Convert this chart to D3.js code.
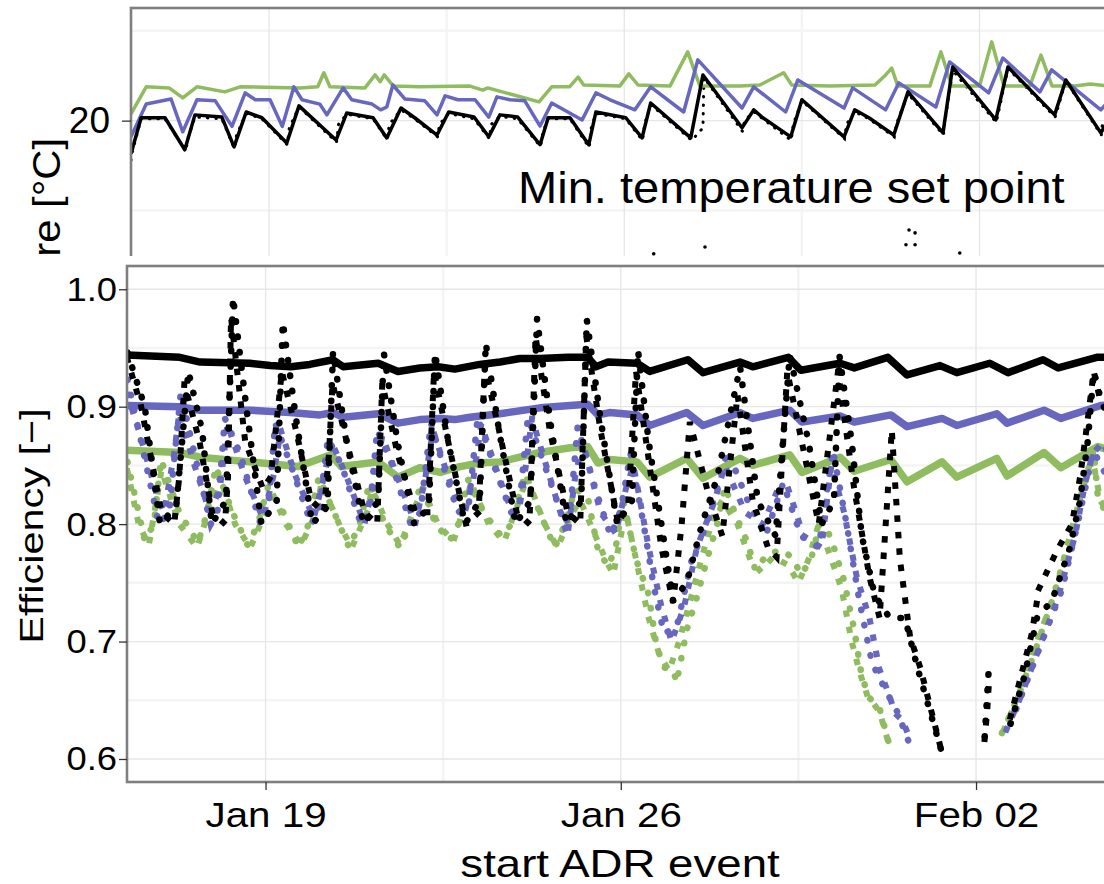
<!DOCTYPE html>
<html>
<head>
<meta charset="utf-8">
<script src="https://cdn.jsdelivr.net/npm/d3@7"></script>
<style>
  body { margin: 0; background: #fff; }
  svg { display: block; }
  text { font-family: "Liberation Sans", Arial, Helvetica, sans-serif; fill: #000; }
</style>
</head>
<body>
<svg id="chart" width="1104" height="884"></svg>
<script>
// time is stored as days after 2015-01-16 00:00
const baseDate = new Date(2015, 0, 16);
const toDate = d => new Date(baseDate.getTime() + d * 864e5);

// ---------- tick values ----------
const dateTicks = [3, 10, 17];          // Jan 19, Jan 26, Feb 02
const dateMinor = [-0.5, 6.5, 13.5, 20.5];
const effTicks = [0.6, 0.7, 0.8, 0.9, 1.0];
const effMinor = [0.65, 0.75, 0.85, 0.95];
const tempTicks = [20];                 // only label visible in the cropped panel
const tempGrid = [15, 20, 25];
const tempMinor = [17.5, 22.5];

// ---------- top panel: indoor temperature ----------
const tempGreen = [[0.28,20.19],[0.58,20.94],[1.03,20.91],[1.30,20.63],[1.58,20.94],[2.13,20.80],[2.43,20.94],[3.61,20.91],[3.96,20.94],[4.08,21.33],[4.20,20.94],[4.89,20.91],[5.09,21.27],[5.19,21.08],[5.27,21.27],[5.45,20.96],[5.97,20.94],[6.96,20.96],[7.21,20.85],[7.31,20.91],[8.32,20.52],[8.57,20.94],[8.92,20.94],[9.09,21.21],[9.20,20.99],[9.91,20.96],[10.09,21.30],[10.27,20.99],[10.90,20.96],[11.25,21.91],[11.49,20.96],[12.28,20.96],[12.67,20.99],[13.14,21.33],[13.30,20.99],[14.05,20.96],[14.94,20.99],[15.15,21.27],[15.27,21.46],[15.39,20.96],[16.02,20.96],[16.24,21.91],[16.45,20.96],[17.00,20.96],[17.24,22.19],[17.48,20.96],[17.99,20.96],[18.21,21.82],[18.43,20.96],[18.88,20.96],[19.18,21.02],[19.57,20.96]];

const tempBlue = [[0.28,19.55],[0.58,20.46],[1.07,20.60],[1.30,19.69],[1.58,20.58],[1.94,20.55],[2.27,19.84],[2.53,20.77],[2.73,20.58],[3.02,20.58],[3.26,19.84],[3.49,20.94],[3.65,20.58],[4.00,20.46],[4.14,20.16],[4.46,20.91],[4.63,20.58],[5.03,20.46],[5.20,20.30],[5.32,20.38],[5.44,20.99],[5.68,20.60],[6.07,20.55],[6.31,20.16],[6.47,20.69],[6.72,20.58],[7.06,20.58],[7.33,20.10],[7.49,20.66],[7.75,20.58],[8.04,20.55],[8.34,19.85],[8.57,20.49],[9.17,20.02],[9.44,20.77],[9.72,20.58],[10.21,20.30],[10.52,20.94],[11.17,20.24],[11.45,21.69],[12.32,20.35],[12.55,20.94],[13.18,20.24],[13.42,21.13],[14.33,20.35],[14.50,20.91],[15.15,20.30],[15.41,21.05],[16.14,20.38],[16.41,21.63],[17.18,20.77],[17.46,21.74],[18.19,20.80],[18.42,21.41],[19.39,20.30],[19.66,20.71]];

const tempBlack = [[0.28,19.08],[0.48,20.08],[0.95,20.08],[1.34,19.19],[1.54,20.16],[2.07,20.10],[2.31,19.27],[2.55,20.24],[2.86,20.08],[3.35,19.38],[3.59,20.41],[4.32,19.46],[4.53,20.21],[5.05,20.08],[5.32,19.52],[5.60,20.35],[5.87,20.08],[6.31,19.60],[6.54,20.24],[7.04,20.10],[7.33,19.55],[7.55,20.16],[7.90,20.10],[8.34,19.33],[8.50,20.08],[8.93,20.08],[9.30,19.33],[9.44,20.24],[10.03,20.08],[10.35,19.52],[10.52,20.49],[11.31,19.52],[11.55,21.27],[12.32,19.80],[12.55,20.30],[12.73,20.08],[13.28,19.55],[13.50,20.58],[14.33,19.55],[14.54,20.30],[14.82,20.08],[15.31,19.60],[15.59,20.80],[16.28,19.66],[16.47,21.49],[17.32,20.02],[17.56,21.49],[18.48,20.16],[18.70,21.13],[19.39,19.66],[19.66,20.30]];

const tempBlackDots = [[0.28,18.9],[0.30,19.1],[0.48,20.05],[0.95,20.05],[1.36,19.15],[1.40,19.5],[1.54,20.1],[2.07,20.05],[2.32,19.22],[2.36,19.6],[2.55,20.2],[2.86,20.05],[3.36,19.33],[3.40,19.8],[3.59,20.38],[4.33,19.4],[4.37,19.9],[4.53,20.18],[5.05,20.05],[5.33,19.47],[5.37,19.9],[5.60,20.3],[5.87,20.05],[6.32,19.55],[6.36,19.9],[6.54,20.2],[7.04,20.05],[7.34,19.5],[7.38,19.9],[7.55,20.12],[7.90,20.05],[8.35,19.28],[8.40,19.7],[8.50,20.05],[8.93,20.05],[9.31,19.25],[9.35,19.8],[9.44,20.2],[10.03,20.05],[10.36,19.45],[10.40,19.9],[10.52,20.45],[11.33,19.45],[11.55,19.8],[11.57,21.2],[12.33,19.7],[12.37,20.0],[12.55,20.25],[12.73,20.05],[13.29,19.45],[13.33,19.9],[13.50,20.55],[14.34,19.5],[14.38,19.9],[14.54,20.25],[14.82,20.05],[15.32,19.55],[15.36,19.9],[15.59,20.75],[16.29,19.6],[16.31,19.9],[16.47,21.4],[17.33,19.95],[17.56,21.45],[18.49,20.1],[18.70,21.1],[19.40,19.6],[19.42,19.9],[19.66,20.25]];

const tempLowDots = [[10.58,16.30],[11.59,16.49],[15.55,16.55],[15.61,16.96],[15.73,16.88],[15.73,16.55],[16.61,16.32]];

// ---------- bottom panel: efficiency ----------
const effBlackSolid = [[0.27,0.944],[1.31,0.942],[1.71,0.938],[2.69,0.937],[3.09,0.935],[3.50,0.934],[3.87,0.936],[4.33,0.940],[4.53,0.934],[5.22,0.937],[5.61,0.930],[6.04,0.933],[6.40,0.934],[6.73,0.932],[7.22,0.936],[7.62,0.938],[8.01,0.941],[8.41,0.941],[8.96,0.942],[9.35,0.942],[9.51,0.934],[9.75,0.938],[10.32,0.937],[10.57,0.930],[11.32,0.940],[11.62,0.929],[12.35,0.938],[12.60,0.934],[13.30,0.942],[13.55,0.931],[14.32,0.937],[14.60,0.933],[15.26,0.942],[15.64,0.927],[16.29,0.935],[16.62,0.929],[17.27,0.937],[17.63,0.929],[18.32,0.940],[18.62,0.933],[19.38,0.942],[19.70,0.942]];

const effBlueSolid = [[0.27,0.901],[1.31,0.900],[1.71,0.897],[2.69,0.897],[3.48,0.895],[4.07,0.893],[4.33,0.895],[4.53,0.891],[5.22,0.894],[5.61,0.886],[6.04,0.889],[6.44,0.890],[6.73,0.889],[7.03,0.891],[7.62,0.894],[8.41,0.899],[9.00,0.901],[9.35,0.902],[9.55,0.893],[9.78,0.895],[10.32,0.893],[10.57,0.884],[11.30,0.895],[11.62,0.884],[12.35,0.895],[12.60,0.890],[13.33,0.897],[13.57,0.887],[14.32,0.892],[14.60,0.887],[15.32,0.893],[15.64,0.883],[16.33,0.890],[16.62,0.884],[17.41,0.894],[17.61,0.886],[18.34,0.897],[18.67,0.890],[19.46,0.901],[19.70,0.902]];

const effGreenSolid = [[0.27,0.863],[1.31,0.861],[1.71,0.857],[2.69,0.853],[3.64,0.849],[4.29,0.859],[4.49,0.849],[5.22,0.853],[5.61,0.840],[6.04,0.848],[6.44,0.844],[6.83,0.849],[7.22,0.852],[7.62,0.853],[8.01,0.857],[8.41,0.861],[9.00,0.865],[9.35,0.866],[9.55,0.852],[9.78,0.855],[10.32,0.853],[10.57,0.840],[11.30,0.856],[11.62,0.839],[12.35,0.856],[12.60,0.850],[13.33,0.859],[13.57,0.844],[14.32,0.857],[14.60,0.845],[15.32,0.855],[15.64,0.836],[16.33,0.853],[16.62,0.840],[17.41,0.856],[17.61,0.841],[18.34,0.861],[18.67,0.848],[19.40,0.866],[19.70,0.862]];

const effBlackCircles = [[0.28,0.946],[0.62,0.90],[0.92,0.80],[1.24,0.815],[1.48,0.93],[1.75,0.88],[1.94,0.80],[2.22,0.82],[2.36,0.993],[2.62,0.90],[2.92,0.80],[3.22,0.82],[3.34,0.972],[3.60,0.89],[3.92,0.80],[4.22,0.815],[4.33,0.947],[4.60,0.87],[4.93,0.80],[5.22,0.82],[5.33,0.946],[5.60,0.87],[5.93,0.80],[6.22,0.815],[6.34,0.946],[6.60,0.87],[6.93,0.80],[7.22,0.82],[7.34,0.954],[7.60,0.88],[7.93,0.80],[8.22,0.82],[8.35,0.975],[8.60,0.89],[8.93,0.80],[9.22,0.82],[9.33,0.974],[9.60,0.89],[9.93,0.80],[10.22,0.82],[10.34,0.948],[10.55,0.87],[10.80,0.80],[11.03,0.735],[11.30,0.75],[11.60,0.80],[11.90,0.84],[12.35,0.934],[12.70,0.82],[13.05,0.79],[13.33,0.944],[13.70,0.87],[13.96,0.80],[14.20,0.82],[14.31,0.943],[14.55,0.87],[14.75,0.79],[15.00,0.74],[15.30,0.72],[15.60,0.72],[15.85,0.677],[16.33,0.605],null,[17.17,0.619],[17.25,0.676],null,[17.68,0.63],[17.95,0.67],[18.20,0.72],[18.50,0.735],[18.85,0.78],[19.05,0.82],[19.20,0.87],[19.32,0.93],[19.45,0.908],[19.60,0.89]];

const effBlackSquares = [[0.28,0.94],[0.55,0.90],[0.95,0.81],[1.20,0.80],[1.30,0.84],[1.40,0.92],[1.70,0.87],[1.95,0.81],[2.20,0.80],[2.26,0.84],[2.32,0.976],[2.60,0.87],[2.95,0.83],[3.10,0.84],[3.25,0.90],[3.32,0.93],[3.60,0.88],[3.90,0.82],[4.15,0.81],[4.25,0.86],[4.32,0.92],[4.60,0.87],[4.95,0.81],[5.20,0.80],[5.30,0.92],[5.60,0.86],[5.95,0.81],[6.20,0.81],[6.32,0.93],[6.60,0.87],[6.95,0.80],[7.20,0.81],[7.32,0.935],[7.60,0.88],[7.95,0.81],[8.20,0.80],[8.32,0.96],[8.60,0.88],[8.95,0.81],[9.20,0.80],[9.32,0.96],[9.60,0.88],[9.95,0.80],[10.15,0.82],[10.30,0.93],[10.50,0.87],[10.80,0.78],[11.03,0.733],[11.20,0.80],[11.36,0.887],[11.70,0.83],[12.00,0.79],[12.30,0.91],[12.60,0.82],[12.90,0.78],[13.07,0.772],[13.28,0.93],[13.90,0.80],[14.28,0.93],[14.60,0.83],[14.90,0.755],[15.10,0.72],[15.34,0.88],[15.50,0.77],[15.70,0.704],[15.90,0.678],[16.33,0.605],null,[17.17,0.617],[17.22,0.641],[17.25,0.662],null,[17.68,0.636],[17.90,0.673],[18.10,0.707],[18.24,0.745],[18.60,0.778],[18.89,0.80],[19.05,0.84],[19.15,0.872],[19.32,0.93],[19.45,0.905],[19.60,0.90]];

const effBlueCircles = [[0.28,0.923],[0.55,0.87],[0.90,0.80],[1.10,0.81],[1.33,0.912],[1.60,0.86],[1.92,0.80],[2.05,0.81],[2.20,0.89],[2.50,0.86],[2.90,0.80],[3.05,0.81],[3.19,0.886],[3.50,0.85],[3.90,0.80],[4.05,0.81],[4.23,0.873],[4.50,0.85],[4.88,0.80],[5.05,0.81],[5.20,0.88],[5.50,0.85],[5.86,0.80],[6.05,0.81],[6.26,0.886],[6.50,0.85],[6.79,0.81],[7.00,0.815],[7.18,0.891],[7.50,0.85],[7.84,0.81],[8.00,0.815],[8.17,0.891],[8.50,0.85],[8.90,0.80],[9.00,0.81],[9.15,0.883],[9.50,0.83],[9.80,0.79],[10.00,0.812],[10.19,0.86],[10.45,0.80],[10.65,0.747],[10.85,0.707],[11.10,0.712],[11.40,0.77],[11.70,0.80],[11.95,0.838],[12.10,0.863],[12.50,0.82],[12.85,0.79],[13.20,0.835],[13.55,0.79],[13.90,0.78],[14.18,0.863],[14.45,0.80],[14.70,0.735],[14.95,0.682],[15.20,0.66],[15.45,0.64],[15.67,0.615],null,[17.68,0.63],[17.95,0.66],[18.30,0.70],[18.70,0.745],[19.00,0.80],[19.20,0.84],[19.32,0.863],[19.45,0.85],[19.60,0.84]];

const effBlueSquares = [[0.28,0.91],[0.50,0.88],[0.85,0.826],[1.00,0.81],[1.20,0.86],[1.30,0.895],[1.60,0.85],[1.90,0.81],[2.10,0.83],[2.25,0.885],[2.60,0.84],[2.95,0.805],[3.15,0.84],[3.30,0.88],[3.60,0.84],[3.95,0.805],[4.15,0.84],[4.30,0.87],[4.60,0.84],[4.95,0.80],[5.15,0.84],[5.30,0.875],[5.60,0.84],[5.95,0.80],[6.15,0.84],[6.30,0.88],[6.60,0.84],[6.90,0.805],[7.10,0.84],[7.25,0.885],[7.60,0.84],[7.95,0.80],[8.10,0.84],[8.25,0.89],[8.60,0.84],[8.95,0.79],[9.10,0.84],[9.25,0.87],[9.60,0.81],[9.90,0.792],[10.10,0.83],[10.25,0.85],[10.55,0.78],[10.80,0.73],[11.00,0.70],[11.25,0.73],[11.50,0.78],[11.85,0.82],[12.05,0.85],[12.45,0.81],[12.80,0.80],[13.10,0.83],[13.30,0.83],[13.60,0.79],[13.95,0.78],[14.15,0.85],[14.40,0.81],[14.65,0.755],[14.90,0.72],[15.10,0.676],[15.30,0.653],[15.40,0.639],[15.55,0.633],[15.67,0.62],null,[17.60,0.625],[17.90,0.655],[18.25,0.695],[18.60,0.735],[18.95,0.79],[19.15,0.835],[19.30,0.86],[19.50,0.87],[19.60,0.86]];

const effGreenCircles = [[0.28,0.853],[0.62,0.786],[0.80,0.80],[0.94,0.855],[1.30,0.81],[1.67,0.784],[1.85,0.81],[2.02,0.849],[2.35,0.81],[2.65,0.782],[2.85,0.80],[3.05,0.832],[3.35,0.81],[3.65,0.78],[3.85,0.80],[4.05,0.84],[4.35,0.81],[4.65,0.78],[4.85,0.80],[5.05,0.835],[5.35,0.80],[5.65,0.78],[5.85,0.80],[6.06,0.835],[6.35,0.80],[6.63,0.786],[6.80,0.80],[6.99,0.838],[7.30,0.81],[7.64,0.79],[7.85,0.80],[8.11,0.843],[8.40,0.81],[8.70,0.78],[8.90,0.80],[9.10,0.83],[9.35,0.823],[9.55,0.778],[9.75,0.764],[9.90,0.78],[10.05,0.82],[10.30,0.77],[10.55,0.74],[10.70,0.697],[10.85,0.678],[11.03,0.676],[11.10,0.665],[11.30,0.71],[11.50,0.738],[11.70,0.77],[11.90,0.80],[12.05,0.832],[12.30,0.804],[12.50,0.784],[12.65,0.761],[12.90,0.775],[13.20,0.778],[13.40,0.77],[13.55,0.757],[13.75,0.77],[13.96,0.808],[14.20,0.78],[14.40,0.752],[14.60,0.71],[14.75,0.67],[14.90,0.652],[15.10,0.643],[15.33,0.606],null,[17.51,0.622],[17.80,0.65],[18.15,0.69],[18.50,0.735],[18.80,0.78],[19.05,0.823],[19.20,0.845],[19.32,0.863],[19.40,0.823],[19.50,0.815],[19.60,0.80]];

const effGreenSquares = [[0.28,0.845],[0.50,0.80],[0.70,0.782],[0.95,0.846],[1.30,0.80],[1.65,0.78],[1.95,0.82],[2.10,0.84],[2.40,0.80],[2.70,0.78],[3.00,0.81],[3.10,0.83],[3.40,0.80],[3.70,0.782],[4.00,0.81],[4.10,0.835],[4.45,0.80],[4.70,0.78],[5.00,0.81],[5.10,0.83],[5.40,0.80],[5.65,0.782],[5.95,0.815],[6.10,0.83],[6.40,0.80],[6.70,0.785],[6.95,0.82],[7.05,0.835],[7.40,0.80],[7.70,0.785],[8.00,0.82],[8.15,0.84],[8.50,0.80],[8.75,0.78],[9.05,0.81],[9.20,0.82],[9.50,0.79],[9.70,0.77],[9.85,0.757],[10.00,0.79],[10.10,0.81],[10.35,0.76],[10.55,0.72],[10.75,0.69],[10.95,0.675],[11.15,0.70],[11.40,0.74],[11.65,0.78],[11.85,0.81],[12.00,0.82],[12.30,0.80],[12.55,0.77],[12.75,0.76],[13.00,0.772],[13.30,0.765],[13.50,0.75],[13.70,0.77],[13.90,0.80],[14.15,0.77],[14.35,0.745],[14.55,0.70],[14.70,0.675],[14.85,0.655],[15.10,0.64],[15.30,0.61],null,[17.55,0.625],[17.85,0.655],[18.20,0.70],[18.55,0.74],[18.85,0.79],[19.10,0.83],[19.30,0.855],[19.45,0.82],[19.60,0.81]];

const colBlack = "#000000", colBlue = "#6767c0", colGreen = "#8fbc5f";

const svg = d3.select("#chart");
const defs = svg.append("defs");

function grid(g, x, y, xMaj, xMin, yMaj, yMin, x0, x1, y0, y1) {
  g.selectAll(".hmin").data(yMin).join("line")
    .attr("x1", x0).attr("x2", x1).attr("y1", d => y(d)).attr("y2", d => y(d))
    .attr("stroke", "#f4f4f4").attr("stroke-width", 2.5);
  g.selectAll(".vmin").data(xMin).join("line")
    .attr("x1", d => x(toDate(d))).attr("x2", d => x(toDate(d))).attr("y1", y0).attr("y2", y1)
    .attr("stroke", "#f4f4f4").attr("stroke-width", 2.5);
  g.selectAll(".hmaj").data(yMaj).join("line")
    .attr("x1", x0).attr("x2", x1).attr("y1", d => y(d)).attr("y2", d => y(d))
    .attr("stroke", "#e6e6e6").attr("stroke-width", 1.3);
  g.selectAll(".vmaj").data(xMaj).join("line")
    .attr("x1", d => x(toDate(d))).attr("x2", d => x(toDate(d))).attr("y1", y0).attr("y2", y1)
    .attr("stroke", "#e6e6e6").attr("stroke-width", 1.3);
}

// stretch axis labels a little wider, like the original figure's font
function styleTicks(axisG, size, sx) {
  axisG.select(".domain").remove();
  axisG.selectAll("line").attr("stroke", "#333").attr("stroke-width", 1.3);
  axisG.selectAll("text").attr("font-size", size).attr("font-family", null)
    .attr("transform", `scale(${sx},1)`)
    .attr("x", function () { return +d3.select(this).attr("x") / sx; });
}

// ================= top panel =================
const tx = d3.scaleTime().domain([toDate(0.28), toDate(19.62)]).range([131, 1112.5]);
const ty = d3.scaleLinear().domain([14.46, 23.13]).range([320, 8]);
const tTop = 8, tBot = 320, tLeft = 131, tRight = 1112.5;

defs.append("clipPath").attr("id", "clipTop").append("rect")
  .attr("x", tLeft).attr("y", tTop).attr("width", tRight - tLeft).attr("height", tBot - tTop);
defs.append("clipPath").attr("id", "clipTopLabel").append("rect")
  .attr("x", 0).attr("y", 0).attr("width", 130).attr("height", 256);

const topPanel = svg.append("g");
const topGrid = topPanel.append("g").attr("clip-path", "url(#clipTop)");
grid(topGrid, tx, ty, dateTicks, dateMinor, tempGrid, tempMinor, tLeft, tRight, tTop, tBot);

const tLine = d3.line().defined(d => d).x(d => tx(toDate(d[0]))).y(d => ty(d[1]));
const topData = topPanel.append("g").attr("clip-path", "url(#clipTop)");
topData.append("path").attr("d", tLine(tempBlackDots)).attr("fill", "none")
  .attr("stroke", colBlack).attr("stroke-width", 3).attr("stroke-linecap", "round").attr("stroke-dasharray", "0.5 8");
topData.append("path").attr("d", tLine(tempGreen)).attr("fill", "none").attr("stroke", colGreen).attr("stroke-width", 3.5).attr("stroke-linejoin", "round");
topData.append("path").attr("d", tLine(tempBlue)).attr("fill", "none").attr("stroke", colBlue).attr("stroke-width", 3.5).attr("stroke-linejoin", "round");
topData.append("path").attr("d", tLine(tempBlack)).attr("fill", "none").attr("stroke", colBlack).attr("stroke-width", 3.5).attr("stroke-linejoin", "round");
topData.selectAll(".low").data(tempLowDots).join("circle")
  .attr("cx", d => tx(toDate(d[0]))).attr("cy", d => ty(d[1])).attr("r", 1.8).attr("fill", colBlack);

topPanel.append("text").attr("transform", "translate(518,203) scale(1.07,1)")
  .attr("font-size", 44).text("Min. temperature set point");

topPanel.append("rect").attr("x", tLeft).attr("y", tTop).attr("width", tRight - tLeft).attr("height", tBot - tTop)
  .attr("fill", "none").attr("stroke", "#7f7f7f").attr("stroke-width", 2.6);

const tAxis = topPanel.append("g").attr("transform", `translate(${tLeft},0)`)
  .call(d3.axisLeft(ty).tickValues(tempTicks).tickFormat(d3.format("d")).tickSize(9).tickPadding(12));
styleTicks(tAxis, 37, 1.0);

topPanel.append("g").attr("clip-path", "url(#clipTopLabel)")
  .append("text").attr("transform", "translate(60,296) rotate(-90) scale(1.1,1)")
  .attr("text-anchor", "middle").attr("font-size", 38).text("Temperature [°C]");

// ================= bottom panel =================
svg.append("rect").attr("x", 0).attr("y", 256).attr("width", 1104).attr("height", 628).attr("fill", "#fff");

const bx = d3.scaleTime().domain([toDate(0.27), toDate(19.62)]).range([127, 1109]);
const by = d3.scaleLinear().domain([0.5804, 1.0198]).range([782, 266]);
const bTop = 266, bBot = 782, bLeft = 127, bRight = 1109;

defs.append("clipPath").attr("id", "clipBot").append("rect")
  .attr("x", bLeft).attr("y", bTop).attr("width", bRight - bLeft).attr("height", bBot - bTop);

const botPanel = svg.append("g");
const botGrid = botPanel.append("g").attr("clip-path", "url(#clipBot)");
grid(botGrid, bx, by, dateTicks, dateMinor, effTicks, effMinor, bLeft, bRight, bTop, bBot);

const bLine = d3.line().defined(d => d).x(d => bx(toDate(d[0]))).y(d => by(d[1]));
const botData = botPanel.append("g").attr("clip-path", "url(#clipBot)");

[[effBlackSolid, colBlack], [effBlueSolid, colBlue], [effGreenSolid, colGreen]].forEach(([s, c]) => {
  botData.append("path").attr("d", bLine(s)).attr("fill", "none").attr("stroke", c)
    .attr("stroke-width", 7.5).attr("stroke-linejoin", "round");
});

const dotted = [
  [effGreenSquares, colGreen, "square"], [effGreenCircles, colGreen, "round"],
  [effBlueSquares, colBlue, "square"], [effBlueCircles, colBlue, "round"],
  [effBlackSquares, colBlack, "square"], [effBlackCircles, colBlack, "round"]
];
dotted.forEach(([s, c, cap]) => {
  botData.append("path").attr("d", bLine(s)).attr("fill", "none").attr("stroke", c)
    .attr("stroke-width", cap === "round" ? 6.5 : 6).attr("stroke-linecap", cap)
    .attr("stroke-dasharray", cap === "round" ? "0.5 15" : "0.5 16");
});

botPanel.append("rect").attr("x", bLeft).attr("y", bTop).attr("width", bRight - bLeft).attr("height", bBot - bTop)
  .attr("fill", "none").attr("stroke", "#7f7f7f").attr("stroke-width", 2.6);

const yAxis = botPanel.append("g").attr("transform", `translate(${bLeft},0)`)
  .call(d3.axisLeft(by).tickValues(effTicks).tickFormat(d3.format(".1f")).tickSize(8).tickPadding(2));
styleTicks(yAxis, 34, 1.07);

const xAxis = botPanel.append("g").attr("transform", `translate(0,${bBot})`)
  .call(d3.axisBottom(bx).tickValues(dateTicks.map(toDate)).tickFormat(d3.timeFormat("%b %d")).tickSize(8).tickPadding(11));
styleTicks(xAxis, 36, 1.12);

botPanel.append("text").attr("transform", "translate(43,526) rotate(-90) scale(1.22,1)")
  .attr("text-anchor", "middle").attr("font-size", 34).text("Efficiency [−]");
botPanel.append("text").attr("transform", "translate(620,877) scale(1.2,1)")
  .attr("text-anchor", "middle").attr("font-size", 38).text("start ADR event");
</script>
</body>
</html>
